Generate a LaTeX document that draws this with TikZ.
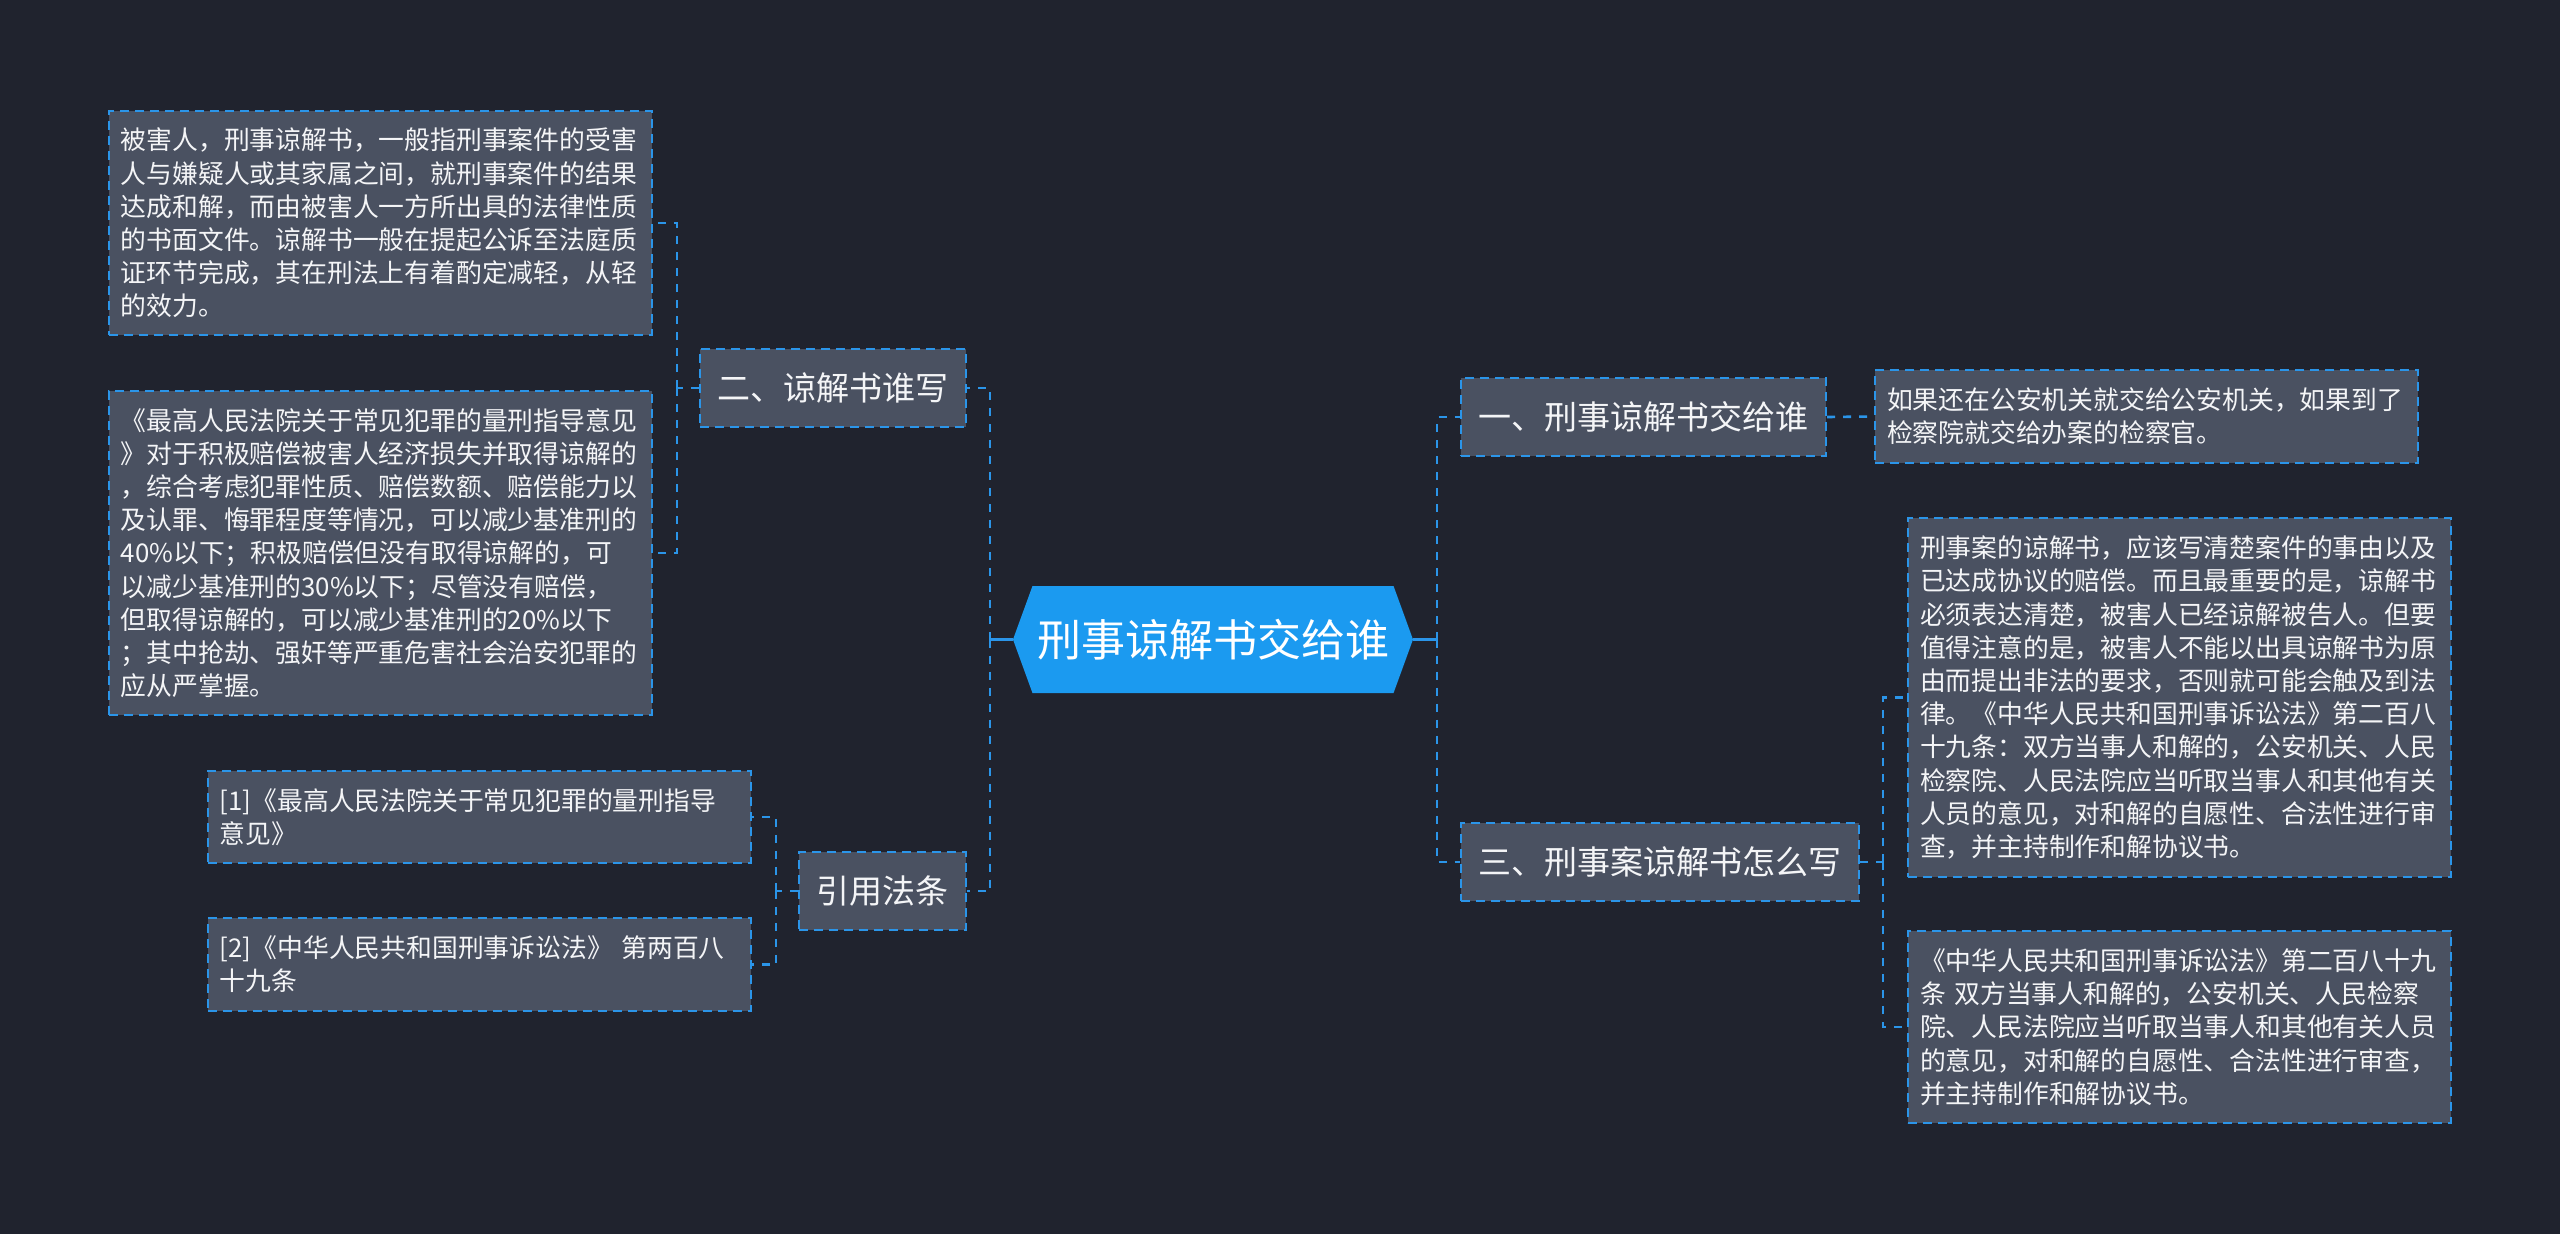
\documentclass[tikz,border=0pt]{standalone}
\usepackage{fontspec}
\setmainfont{Noto Sans CJK SC}
\usetikzlibrary{shapes.symbols}
\definecolor{bgdark}{HTML}{20232E}
\definecolor{boxgray}{HTML}{4A5161}
\definecolor{lineblue}{HTML}{2B95E9}
\definecolor{topicblue}{HTML}{1B9AF0}
\definecolor{textwhite}{HTML}{F4F5F7}

\begin{document}
\begin{tikzpicture}[x=1pt, y=-1pt,
  topic/.style={shape=signal, signal to=west and east, signal pointer angle=140,
    fill=topicblue, text=white, minimum width=400pt, minimum height=107pt,
    inner sep=0pt, font=\fontsize{44}{52}\selectfont},
  branch/.style={draw=lineblue, dash pattern=on 9pt off 6pt, line width=2.2pt,
    fill=boxgray, text=textwhite, inner xsep=17.5pt, minimum height=78pt,
    font=\fontsize{33}{40}\selectfont},
  leaf/.style={draw=lineblue, dash pattern=on 9pt off 6pt, line width=2.2pt,
    fill=boxgray, text=textwhite, text width=519pt, inner xsep=12pt, inner ysep=0pt,
    minimum height=#1, align=left, font=\fontsize{25.8}{33.2}\selectfont},
  link/.style={draw=lineblue, line width=2.6pt, dash pattern=on 8pt off 8pt},
  stub/.style={draw=lineblue, line width=2.6pt}
]
  \fill[bgdark] (0,0) rectangle (2560,1234);
  \useasboundingbox (0,0) rectangle (2560,1234);

  % Central topic
  \node[topic] (T) at (1213,639.5) {刑事谅解书交给谁};

  % Branches
  \node[branch, anchor=east] (B2) at (967,388) {二、谅解书谁写};
  \node[branch, anchor=east] (B4) at (967,891) {引用法条};
  \node[branch, anchor=west] (B1) at (1460,417) {一、刑事谅解书交给谁};
  \node[branch, anchor=west] (B3) at (1460,862) {三、刑事案谅解书怎么写};

  % Left leaves
  \node[leaf=224pt, anchor=east] (D1) at (653,223) {被害人，刑事谅解书，一般指刑事案件的受害\\
    人与嫌疑人或其家属之间，就刑事案件的结果\\
    达成和解，而由被害人一方所出具的法律性质\\
    的书面文件。谅解书一般在提起公诉至法庭质\\
    证环节完成，其在刑法上有着酌定减轻，从轻\\
    的效力。};
  \node[leaf=324pt, anchor=east] (D2) at (653,553) {《最高人民法院关于常见犯罪的量刑指导意见\\
    》对于积极赔偿被害人经济损失并取得谅解的\\
    ，综合考虑犯罪性质、赔偿数额、赔偿能力以\\
    及认罪、悔罪程度等情况，可以减少基准刑的\\
    40\%以下；积极赔偿但没有取得谅解的，可\\
    以减少基准刑的30\%以下；尽管没有赔偿，\\
    但取得谅解的，可以减少基准刑的20\%以下\\
    ；其中抢劫、强奸等严重危害社会治安犯罪的\\
    应从严掌握。};
  \node[leaf=92pt, anchor=east] (R1) at (752,817) {{[1]}《最高人民法院关于常见犯罪的量刑指导\\
    意见》};
  \node[leaf=93pt, anchor=east] (R2) at (752,964.5) {{[2]}《中华人民共和国刑事诉讼法》 第两百八\\
    十九条};

  % Right leaves
  \node[leaf=93pt, anchor=west] (N1) at (1874,416.5) {如果还在公安机关就交给公安机关，如果到了\\
    检察院就交给办案的检察官。};
  \node[leaf=359pt, anchor=west] (D3) at (1907,697.5) {刑事案的谅解书，应该写清楚案件的事由以及\\
    已达成协议的赔偿。而且最重要的是，谅解书\\
    必须表达清楚，被害人已经谅解被告人。但要\\
    值得注意的是，被害人不能以出具谅解书为原\\
    由而提出非法的要求，否则就可能会触及到法\\
    律。《中华人民共和国刑事诉讼法》第二百八\\
    十九条：双方当事人和解的，公安机关、人民\\
    检察院、人民法院应当听取当事人和其他有关\\
    人员的意见，对和解的自愿性、合法性进行审\\
    查，并主持制作和解协议书。};
  \node[leaf=192pt, anchor=west] (D4) at (1907,1027) {《中华人民共和国刑事诉讼法》第二百八十九\\
    条 双方当事人和解的，公安机关、人民检察\\
    院、人民法院应当听取当事人和其他有关人员\\
    的意见，对和解的自愿性、合法性进行审查，\\
    并主持制作和解协议书。};

  % Junctions
  \coordinate (JL) at (990,639.5);
  \coordinate (JR) at (1437,639.5);
  \coordinate (J2) at (677,388);
  \coordinate (J4) at (776,891);
  \coordinate (J3) at (1883,862);

  % Connectors
  \draw[stub] (T.west) -- (JL);
  \draw[stub] (T.east) -- (JR);
  \foreach \j/\n in {JL/B2.east, JL/B4.east, JR/B1.west, JR/B3.west,
    J2/D1.east, J2/D2.east, J4/R1.east, J4/R2.east, J3/D3.west, J3/D4.west} {
    \draw[link] (\j) |- (\n);
  }
  \foreach \n/\j in {B2.west/J2, B4.west/J4, B3.east/J3} {
    \draw[link] (\n) -- (\j);
  }
  \draw[link] (B1.east) -- (N1.west);
\end{tikzpicture}
\end{document}
